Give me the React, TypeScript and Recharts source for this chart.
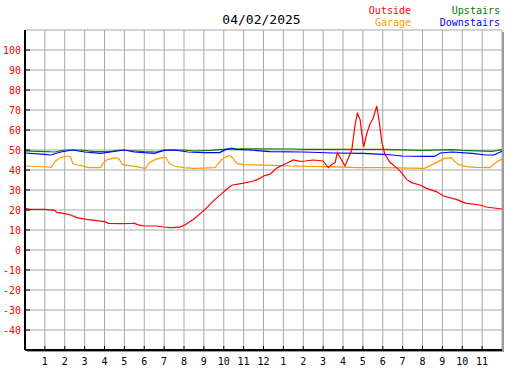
import { LineChart, Line, XAxis, YAxis, CartesianGrid } from 'recharts';

document.body.style.margin = '0';

const FONT = '"DejaVu Sans Mono", monospace';

const hourTicks = [1, 2, 3, 4, 5, 6, 7, 8, 9, 10, 11, 12, 13, 14, 15, 16, 17, 18, 19, 20, 21, 22, 23];
const hourLabels = ['1', '2', '3', '4', '5', '6', '7', '8', '9', '10', '11', '12', '1', '2', '3', '4', '5', '6', '7', '8', '9', '10', '11'];
const tempTicks = [-40, -30, -20, -10, 0, 10, 20, 30, 40, 50, 60, 70, 80, 90, 100];

// [hour, temperature]
const outside = [
  [0, 21], [0.2, 20.3], [1.0, 20.3], [1.5, 19.8], [1.6, 18.8], [2.0, 18.2], [2.3, 17.5], [2.6, 16.2],
  [3.1, 15.3], [3.5, 14.8], [4.0, 14.2], [4.2, 13.3], [4.8, 13.2], [5.4, 13.3], [5.5, 13.4], [5.65, 12.7],
  [6.0, 12.0], [6.6, 12.0], [7.0, 11.5], [7.3, 11.2], [7.8, 11.4], [8.0, 12.3], [8.5, 15.5], [9.06, 20.3],
  [9.56, 25.3], [9.9, 28.2], [10.15, 30.4], [10.4, 32.4], [11.0, 33.4], [11.5, 34.5], [11.8, 35.7], [12.0, 37],
  [12.33, 37.9], [12.66, 40.9], [12.83, 41.8], [13.17, 43.4], [13.5, 45], [13.84, 44.3], [14.1, 44.5], [14.5, 45],
  [15.0, 44.5], [15.15, 42.5], [15.26, 41.2], [15.43, 42.8], [15.6, 43.7], [15.72, 48.7], [15.9, 45.5], [16.1, 42],
  [16.27, 46], [16.44, 50], [16.6, 62], [16.72, 68.4], [16.86, 65.3], [16.94, 58.7], [17.04, 51.5], [17.19, 58],
  [17.36, 63], [17.52, 66], [17.7, 72], [17.83, 63.7], [17.95, 54], [18.1, 48], [18.37, 43.7], [18.7, 41.2],
  [18.95, 38.7], [19.2, 35.3], [19.45, 33.7], [19.87, 32.5], [20.2, 30.8], [20.7, 29.2], [21.05, 27], [21.7, 25.3],
  [22.2, 23.3], [22.9, 22.5], [23.2, 21.5], [24, 20.5],
];

const garage = [
  [0, 42], [1.2, 41.5], [1.3, 41.2], [1.54, 44.5], [1.8, 46.2], [2.15, 47], [2.3, 46.5], [2.4, 43.3],
  [2.6, 42.5], [2.8, 42.3], [3.2, 41.2], [3.8, 41.2], [3.95, 43.7], [4.15, 45.3], [4.56, 46.2], [4.73, 45.5],
  [4.9, 42.8], [5.15, 42.3], [5.65, 41.7], [6.05, 40.7], [6.25, 43.7], [6.57, 45.3], [6.9, 46.2], [7.1, 46.2],
  [7.25, 43.3], [7.5, 42], [8.0, 41.2], [8.5, 40.8], [9.56, 41.2], [9.9, 45.3], [10.15, 46.7], [10.3, 47.3],
  [10.45, 46], [10.65, 43.3], [11.0, 42.7], [12.5, 42.3], [13.3, 42], [15.2, 41.7], [16.7, 41.2], [18, 41.2],
  [20.1, 40.8], [20.7, 43.7], [21.1, 45.8], [21.47, 46.2], [21.6, 44.5], [21.8, 42.8], [22.2, 41.7], [22.7, 41.3],
  [23.4, 41.2], [23.65, 43.5], [23.9, 45], [24, 45.3],
];

const upstairs = [
  [0, 49.6], [1, 49.2], [1.5, 49], [2, 50], [2.8, 50], [3.5, 49.2], [4.2, 49.2], [4.8, 50],
  [6, 49.2], [6.6, 49], [7, 50], [8, 50], [8.5, 49.5], [9.3, 49.8], [10, 50.3], [11, 50.6],
  [13.5, 50.5], [14, 50.3], [18, 50.3], [20, 49.8], [21.5, 50.2], [22, 49.8], [23.5, 49.3], [24, 50.2],
];

const downstairs = [
  [0, 48.5], [1, 47.8], [1.3, 47.5], [1.8, 49], [2.4, 50], [3, 49], [3.8, 48.3], [4.3, 49],
  [5, 50], [5.5, 49], [6.5, 48.3], [7, 49.8], [7.5, 50], [8.2, 49], [9, 48.7], [9.8, 48.7],
  [10.1, 50.3], [10.4, 51], [10.65, 50.3], [11.3, 50], [12.3, 49.2], [14, 49], [15.5, 48.5], [17, 48.3],
  [18, 47.8], [18.5, 47.5], [19, 47], [20, 46.8], [20.6, 46.8], [20.9, 48.5], [21.5, 49], [22.5, 48.3],
  [23.2, 47.5], [23.6, 47.5], [24, 49.4],
];

const toPts = (arr: number[][]) => arr.map(([h, v]) => ({ h, v }));

const XTick = ({ x, y, payload }: any) => {
  const i = hourTicks.indexOf(payload.value);
  return (
    <g>
      <line x1={x} x2={x} y1={y} y2={y - 4} stroke="#000" strokeWidth={1} />
      <text x={x} y={y + 15} textAnchor="middle" fontFamily={FONT} fontSize={10} fill="#000">
        {hourLabels[i]}
      </text>
    </g>
  );
};

const YTick = ({ x, y, payload }: any) => (
  <g>
    <line x1={x} x2={x + 5} y1={y} y2={y} stroke="#000" strokeWidth={1} />
    <text x={x - 4} y={y + 3.5} textAnchor="end" fontFamily={FONT} fontSize={10} fill="#ff0000">
      {payload.value}
    </text>
  </g>
);

export default function App() {
  return (
    <div style={{ position: 'relative', width: 527, height: 370, background: '#fff', fontFamily: FONT }}>
      <div style={{ position: 'absolute', left: 25, top: 30, width: 477, height: 320, boxShadow: '2px 2px 0 0 #9a9a9a' }} />
      <LineChart
        width={527}
        height={370}
        margin={{ top: 30, right: 25, bottom: 0, left: 0 }}
        style={{ position: 'absolute', left: 0, top: 0 }}
      >
        <CartesianGrid stroke="#a8a8a8" strokeWidth={1} />
        <XAxis
          dataKey="h"
          type="number"
          domain={[0, 24]}
          ticks={hourTicks}
          tick={<XTick />}
          tickSize={0}
          tickMargin={0}
          height={20}
          axisLine={{ stroke: '#000', strokeWidth: 2 }}
          tickLine={false}
          interval={0}
        />
        <XAxis xAxisId="top" orientation="top" type="number" domain={[0, 24]} height={0} tick={false} tickLine={false} axisLine={{ stroke: '#000', strokeWidth: 1 }} />
        <YAxis
          type="number"
          domain={[-50, 110]}
          ticks={tempTicks}
          tick={<YTick />}
          tickSize={0}
          tickMargin={0}
          width={25}
          axisLine={{ stroke: '#000', strokeWidth: 2 }}
          tickLine={false}
          interval={0}
        />
        <YAxis yAxisId="right" orientation="right" type="number" domain={[-50, 110]} width={0} tick={false} tickLine={false} axisLine={{ stroke: '#000', strokeWidth: 2 }} />
        <Line data={toPts(upstairs)} dataKey="v" type="linear" stroke="#008000" strokeWidth={1.2} dot={false} isAnimationActive={false} />
        <Line data={toPts(downstairs)} dataKey="v" type="linear" stroke="#0000ff" strokeWidth={1.2} dot={false} isAnimationActive={false} />
        <Line data={toPts(garage)} dataKey="v" type="linear" stroke="#ff9900" strokeWidth={1.2} dot={false} isAnimationActive={false} />
        <Line data={toPts(outside)} dataKey="v" type="linear" stroke="#ff0000" strokeWidth={1.2} dot={false} isAnimationActive={false} />
      </LineChart>
      <div style={{ position: 'absolute', left: 0, width: 527, top: 12, textAlign: 'center', fontSize: 13, lineHeight: '16px', color: '#000' }}>
        <span style={{ position: 'relative', left: -2 }}>04/02/2025</span>
      </div>
      <div style={{ position: 'absolute', right: 116, top: 5, textAlign: 'right', fontSize: 10, lineHeight: '12px' }}>
        <div style={{ color: '#ff0000' }}>Outside</div>
        <div style={{ color: '#ff9900' }}>Garage</div>
      </div>
      <div style={{ position: 'absolute', right: 27, top: 5, textAlign: 'right', fontSize: 10, lineHeight: '12px' }}>
        <div style={{ color: '#008000' }}>Upstairs</div>
        <div style={{ color: '#0000ff' }}>Downstairs</div>
      </div>
    </div>
  );
}
